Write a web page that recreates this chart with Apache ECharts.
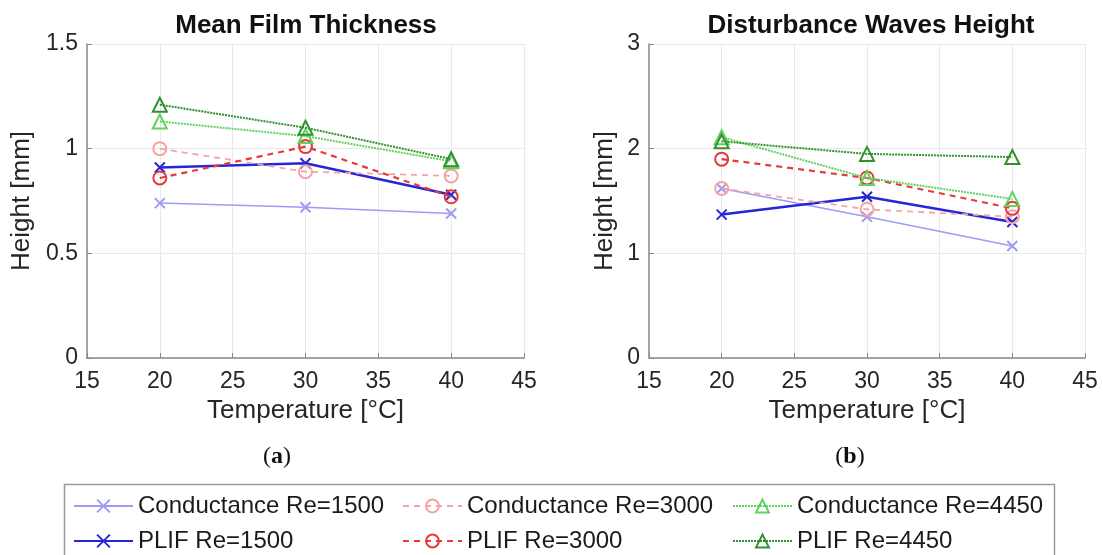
<!DOCTYPE html>
<html>
<head>
<meta charset="utf-8">
<script src="https://cdn.jsdelivr.net/npm/echarts@6/dist/echarts.min.js"></script>
<style>
html,body{margin:0;padding:0;background:#fff;}
#c{width:1103px;height:555px;}
</style>
</head>
<body>
<div id="c"></div>
<script>
// ---- data ----
const temps = [20, 30, 40];
const xTicks = [15, 20, 25, 30, 35, 40, 45];
const seriesNames = ['Conductance Re=1500', 'PLIF Re=1500', 'Conductance Re=3000', 'PLIF Re=3000', 'Conductance Re=4450', 'PLIF Re=4450'];
// Mean film thickness [mm]
const filmCond1500 = [0.74, 0.72, 0.69];
const filmPlif1500 = [0.91, 0.93, 0.78];
const filmCond3000 = [1.00, 0.89, 0.87];
const filmPlif3000 = [0.86, 1.01, 0.77];
const filmCond4450 = [1.13, 1.06, 0.94];
const filmPlif4450 = [1.21, 1.10, 0.95];
// Disturbance waves height [mm]
const waveCond1500 = [1.62, 1.35, 1.07];
const wavePlif1500 = [1.37, 1.54, 1.30];
const waveCond3000 = [1.62, 1.42, 1.35];
const wavePlif3000 = [1.90, 1.72, 1.43];
const waveCond4450 = [2.11, 1.72, 1.52];
const wavePlif4450 = [2.07, 1.95, 1.92];

const FONT = '"Liberation Sans", Arial, sans-serif';
const X_PATH = 'path://M0,0L10,10M10,0L0,10';

const styles = [
  {color: '#9c9cf4', type: 'solid', width: 1.5, symbol: X_PATH, size: 10},
  {color: '#2626d6', type: 'solid', width: 2.5, symbol: X_PATH, size: 10},
  {color: '#f4a4a4', type: [6, 5], width: 1.8, symbol: 'circle', size: 13},
  {color: '#e63a3a', type: [6, 5], width: 2.2, symbol: 'circle', size: 13},
  {color: '#5fd35f', type: [2, 1], width: 2, symbol: 'triangle', size: 14},
  {color: '#2f922f', type: [2, 1], width: 2, symbol: 'triangle', size: 14}
];

const filmData = [filmCond1500, filmPlif1500, filmCond3000, filmPlif3000, filmCond4450, filmPlif4450];
const waveData = [waveCond1500, wavePlif1500, waveCond3000, wavePlif3000, waveCond4450, wavePlif4450];

function makeSeries(vals, idx, axisIdx) {
  const s = styles[idx];
  return {
    name: seriesNames[idx],
    type: 'line',
    xAxisIndex: axisIdx,
    yAxisIndex: axisIdx,
    data: temps.map((t, i) => [t, vals[i]]),
    symbol: s.symbol,
    symbolSize: s.size,
    lineStyle: {color: s.color, type: s.type, width: s.width},
    itemStyle: {color: 'rgba(0,0,0,0)', borderColor: s.color, borderWidth: 2},
    emphasis: {disabled: true},
    z: 2 + idx
  };
}

const series = [];
filmData.forEach((v, i) => series.push(makeSeries(v, i, 0)));
waveData.forEach((v, i) => series.push(makeSeries(v, i, 1)));

const axisLineColor = '#8a8a8a';
const labelColor = '#262626';

function xAxis(gridIndex) {
  return {
    type: 'value', gridIndex, min: 15, max: 45, interval: 5,
    name: 'Temperature [°C]', nameLocation: 'middle', nameGap: 40,
    nameTextStyle: {fontFamily: FONT, fontSize: 26, color: labelColor},
    axisLine: {show: true, lineStyle: {color: axisLineColor, width: 1.5}},
    axisTick: {show: true, inside: true, length: 5, lineStyle: {color: axisLineColor}},
    axisLabel: {fontFamily: FONT, fontSize: 23, color: labelColor, margin: 12,
      formatter: v => xTicks.indexOf(v) >= 0 ? String(v) : ''},
    splitLine: {show: true, lineStyle: {color: '#e9e9e9', width: 1}}
  };
}
function yAxis(gridIndex, max, interval, nameGap) {
  return {
    type: 'value', gridIndex, min: 0, max, interval,
    name: 'Height [mm]', nameLocation: 'middle', nameGap,
    nameTextStyle: {fontFamily: FONT, fontSize: 26, color: labelColor},
    axisLine: {show: true, lineStyle: {color: axisLineColor, width: 1.5}},
    axisTick: {show: true, inside: true, length: 5, lineStyle: {color: axisLineColor}},
    axisLabel: {fontFamily: FONT, fontSize: 23, color: labelColor, margin: 9},
    splitLine: {show: true, lineStyle: {color: '#e9e9e9', width: 1}}
  };
}

function legend(left, names) {
  return {
    orient: 'vertical', left, top: 494, height: 120, padding: 0,
    itemWidth: 59, itemHeight: 16, itemGap: 11,
    data: names,
    selectedMode: false,
    textStyle: {fontFamily: FONT, fontSize: 24, color: '#1a1a1a'}
  };
}

const option = {
  animation: false,
  backgroundColor: '#fff',
  grid: [
    {left: 87, top: 44, width: 437, height: 314},
    {left: 649, top: 44, width: 436, height: 314}
  ],
  xAxis: [xAxis(0), xAxis(1)],
  yAxis: [yAxis(0, 1.5, 0.5, 52), yAxis(1, 3, 1, 31)],
  legend: [
    legend(73, [seriesNames[0], seriesNames[1]]),
    legend(402, [seriesNames[2], seriesNames[3]]),
    legend(732, [seriesNames[4], seriesNames[5]])
  ],
  graphic: [
    {type: 'rect', shape: {x: 64.5, y: 484.5, width: 990, height: 80},
     style: {fill: 'none', stroke: '#9a9a9a', lineWidth: 1.5}, z: -1},
    {type: 'text', x: 306, y: 26, style: {text: 'Mean Film Thickness', font: 'bold 26px ' + FONT,
      fill: '#111', textAlign: 'center', textVerticalAlign: 'middle', align: 'center', verticalAlign: 'middle'}},
    {type: 'text', x: 871, y: 26, style: {text: 'Disturbance Waves Height', font: 'bold 26px ' + FONT,
      fill: '#111', textAlign: 'center', textVerticalAlign: 'middle', align: 'center', verticalAlign: 'middle'}},
    {type: 'text', x: 277, y: 457, style: {text: '{p|(}{b|a}{p|)}', textAlign: 'center', textVerticalAlign: 'middle', align: 'center', verticalAlign: 'middle',
      rich: {p: {font: '24px "Liberation Serif", serif', fill: '#111'}, b: {font: 'bold 24px "Liberation Serif", serif', fill: '#111'}}}},
    {type: 'text', x: 850, y: 457, style: {text: '{p|(}{b|b}{p|)}', textAlign: 'center', textVerticalAlign: 'middle', align: 'center', verticalAlign: 'middle',
      rich: {p: {font: '24px "Liberation Serif", serif', fill: '#111'}, b: {font: 'bold 24px "Liberation Serif", serif', fill: '#111'}}}}
  ],
  series
};

const chart = echarts.init(document.getElementById('c'), null, {renderer: 'canvas'});
chart.setOption(option);
</script>
</body>
</html>
